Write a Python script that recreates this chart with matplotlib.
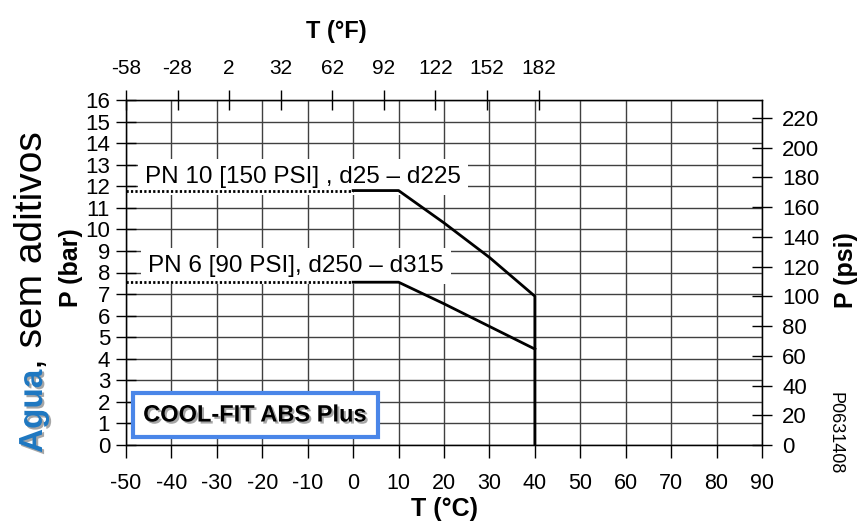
import matplotlib
matplotlib.use("Agg")
import matplotlib.pyplot as plt
import matplotlib.patheffects as pe
import numpy as np

plt.rcParams['font.family'] = ['Liberation Sans', 'DejaVu Sans']
plt.rcParams['axes.unicode_minus'] = False

# data (T in degC, P in bar)
pn10_dot_t = [-50, 0]
pn10_dot_p = [11.8, 11.8]
pn10_t = [0, 10, 20, 30, 40, 40]
pn10_p = [11.8, 11.8, 10.3, 8.7, 6.9, 0]

pn6_dot_t = [-50, 0]
pn6_dot_p = [7.55, 7.55]
pn6_t = [0, 10, 20, 30, 40]
pn6_p = [7.55, 7.55, 6.55, 5.5, 4.45]

c_ticks = np.arange(-50, 91, 10)
bar_ticks = np.arange(0, 17, 1)
psi_ticks = np.arange(0, 221, 20)
f_ticks = np.arange(-58, 183, 30)
bar_to_psi = 14.5

label_pn10 = "PN 10 [150 PSI] , d25 \u2013 d225"
label_pn6 = "PN 6 [90 PSI], d250 \u2013 d315"

fig = plt.figure(figsize=(8.57, 5.22), dpi=100)
ax = fig.add_axes([126 / 857, 77 / 522, 636 / 857, 345 / 522])

ax.set_xlim(-50, 90)
ax.set_ylim(0, 16)
ax.set_xticks(c_ticks)
ax.set_yticks(bar_ticks)
ax.grid(True, color='#404040', lw=1.0, zorder=0)
ax.set_axisbelow(True)
for s in ax.spines.values():
    s.set_color('#303030')
    s.set_linewidth(1.0)

ax.tick_params(axis='y', direction='inout', length=15, width=1, labelsize=16, pad=4)
ax.tick_params(axis='x', direction='out', length=9, width=1, labelsize=15.5, pad=11)

# curves
ax.plot(pn10_dot_t, pn10_dot_p, color='black', lw=2, dashes=(0.8, 0.8), zorder=4)
ax.plot(pn10_t, pn10_p, color='black', lw=2, zorder=4)
ax.plot(pn6_dot_t, pn6_dot_p, color='black', lw=2, dashes=(0.8, 0.8), zorder=4)
ax.plot(pn6_t, pn6_p, color='black', lw=2, zorder=4)

box = dict(facecolor='white', edgecolor='none', boxstyle='square,pad=0.3')
ax.text(-45.8, 12.15, label_pn10, fontsize=17.5, ha='left', va='baseline',
        bbox=box, zorder=3)
ax.text(-45.2, 8.02, label_pn6, fontsize=17.5, ha='left', va='baseline',
        bbox=box, zorder=3)

shadow = [pe.withSimplePatchShadow(offset=(1.5, -1.5), shadow_rgbFace='#808080', alpha=0.7)]
ax.text(0.203, 0.087, "COOL-FIT ABS Plus", transform=ax.transAxes, fontsize=17,
        fontweight='bold', ha='center', va='center', zorder=5, path_effects=shadow,
        bbox=dict(facecolor='white', edgecolor='#4a86e8', lw=3,
                  boxstyle='square,pad=0.45'))

# right axis in psi
ax2 = ax.twinx()
ax2.set_ylim(0, 16 * bar_to_psi)
ax2.set_yticks(psi_ticks)
ax2.tick_params(axis='y', direction='inout', length=15, width=1, labelsize=16, pad=7)

# top axis in degF
ax3 = ax.twiny()
ax3.set_xlim(-58, 312)
ax3.set_xticks(f_ticks)
ax3.tick_params(axis='x', direction='inout', length=15, width=1, labelsize=15, pad=8)

# axis titles
fig.text(444 / 857, 1 - 509 / 522, "T (\u00b0C)", fontsize=18, fontweight='bold',
         ha='center', va='center')
fig.text(336 / 857, 1 - 31 / 522, "T (\u00b0F)", fontsize=17, fontweight='bold',
         ha='center', va='center')
fig.text(71 / 857, 1 - 268 / 522, "P (bar)", fontsize=18, fontweight='bold',
         rotation=90, ha='center', va='center')
fig.text(846 / 857, 1 - 270 / 522, "P (psi)", fontsize=18, fontweight='bold',
         rotation=90, ha='center', va='center')
fig.text(835 / 857, 1 - 433 / 522, "P0631408", fontsize=13, rotation=270,
         ha='center', va='center')

# medium label on the far left
t1 = fig.text(42 / 857, 1 - 453 / 522, "Agua", fontsize=24, fontweight='bold',
              color='#1f78c1', rotation=90, rotation_mode='anchor',
              ha='left', va='baseline', path_effects=shadow)
fig.canvas.draw()
bb = t1.get_window_extent()
fig.text(42 / 857, bb.y1 / fig.bbox.height, ", sem aditivos", fontsize=28,
         rotation=90, rotation_mode='anchor', ha='left', va='baseline')

fig.savefig("out.png", dpi=100)
